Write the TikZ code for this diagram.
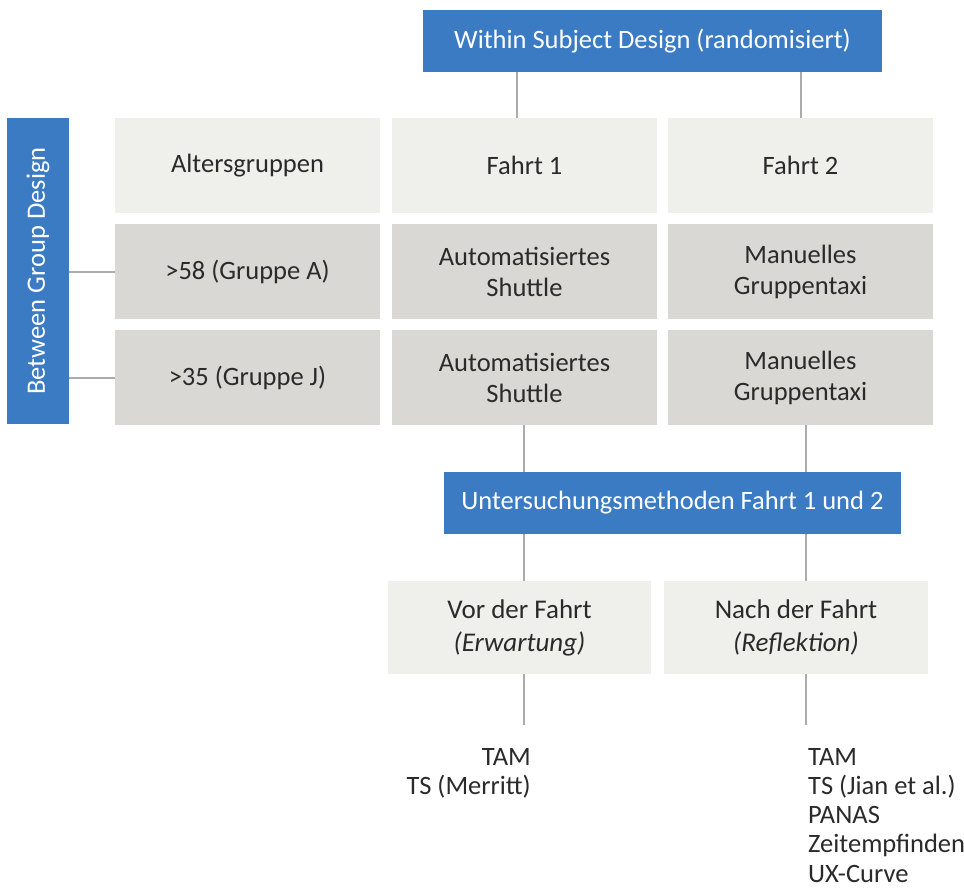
\documentclass[tikz,border=0pt]{standalone}
\usepackage{fontspec}
\setmainfont{Carlito}
\definecolor{bblue}{HTML}{3B7BC4}
\definecolor{lgray}{HTML}{EFEFEC}
\definecolor{dgray}{HTML}{D9D8D4}
\definecolor{lcol}{HTML}{ABABAB}
\definecolor{tcol}{HTML}{2A2A2A}
\begin{document}
\begin{tikzpicture}[x=1pt,y=1pt,
  every node/.style={inner sep=0pt, font=\fontsize{26.5}{31}\selectfont, text=tcol},
  bluebox/.style={fill=bblue, text=white, minimum height=62},
  lightbox/.style={fill=lgray, minimum width=265, minimum height=95, align=center},
  darkbox/.style={fill=dgray, minimum width=265, minimum height=95, align=center},
  listtext/.style={font=\fontsize{26.5}{29.2}\selectfont},
  conn/.style={draw=lcol, line width=2pt}]
\useasboundingbox (0,0) rectangle (964,-888);

% top
\node[bluebox, minimum width=459] (top) at (652.5,-41) {Within Subject Design (randomisiert)};
% left
\node[bluebox, minimum width=62, minimum height=306] (bg) at (38,-271)
  {\rotatebox{90}{Between Group Design}};

% row 1
\node[lightbox] (a1) at (247.5,-165.5) {Altersgruppen};
\node[lightbox] (b1) at (524.5,-165.5) {Fahrt 1};
\node[lightbox] (c1) at (800.5,-165.5) {Fahrt 2};
% row 2
\node[darkbox] (a2) at (247.5,-271.5) {>58 (Gruppe A)};
\node[darkbox] (b2) at (524.5,-271.5) {Automatisiertes\\Shuttle};
\node[darkbox] (c2) at (800.5,-271.5) {Manuelles\\Gruppentaxi};
% row 3
\node[darkbox] (a3) at (247.5,-377.5) {>35 (Gruppe J)};
\node[darkbox] (b3) at (524.5,-377.5) {Automatisiertes\\Shuttle};
\node[darkbox] (c3) at (800.5,-377.5) {Manuelles\\Gruppentaxi};

% methods
\node[bluebox, minimum width=457] (um) at (672.5,-503) {Untersuchungsmethoden Fahrt 1 und 2};
\node[lightbox, minimum width=263, minimum height=93, font=\fontsize{27}{33}\selectfont] (vor) at (519.5,-627.5)
  {Vor der Fahrt\\\textit{(Erwartung)}};
\node[lightbox, minimum width=264, minimum height=93, font=\fontsize{27}{33}\selectfont] (nach) at (796,-627.5)
  {Nach der Fahrt\\\textit{(Reflektion)}};

\coordinate (ve) at (524,-725);
\coordinate (ne) at (806,-725);

\node[listtext, anchor=north east, align=right] (vl) at (531,-748) {TAM\\TS (Merritt)};
\node[listtext, anchor=north west, align=left] (nl) at (808,-748)
  {TAM\\TS (Jian et al.)\\PANAS\\Zeitempfinden\\UX-Curve};

% connectors
\draw[conn] (b1.north -| 517,0) -- (top.south -| 517,0);
\draw[conn] (c1.north -| 801,0) -- (top.south -| 801,0);
\draw[conn] (a2.west -| bg.east) -- (a2.west);
\draw[conn] (a3.west -| bg.east) -- (a3.west);
\draw[conn] (b3.south -| ve) -- (um.north -| ve);
\draw[conn] (c3.south -| ne) -- (um.north -| ne);
\draw[conn] (um.south -| ve) -- (vor.north -| ve);
\draw[conn] (um.south -| ne) -- (nach.north -| ne);
\draw[conn] (vor.south -| ve) -- (ve);
\draw[conn] (nach.south -| ne) -- (ne);
\end{tikzpicture}
\end{document}
